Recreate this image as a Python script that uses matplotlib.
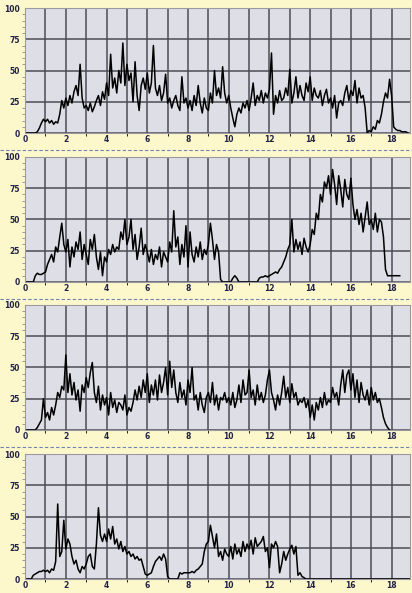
import numpy as np
import matplotlib
matplotlib.use('Agg')
import matplotlib.pyplot as plt

step = 0.1

trace1 = [0,0,0,0,0,0,1,4,8,11,
          9,11,8,10,7,9,8,15,26,20,
          28,22,30,24,33,38,30,55,28,20,
          22,18,24,17,21,26,30,22,33,27,
          40,30,63,36,44,32,50,40,72,38,
          55,42,48,25,57,30,18,38,44,35,
          48,32,40,70,36,30,38,26,32,47,
          24,28,20,26,30,22,18,45,24,28,
          20,26,18,30,22,38,24,16,28,20,
          18,32,24,50,30,36,28,53,32,24,
          30,20,12,5,15,20,16,24,20,26,
          18,28,40,22,30,26,34,24,32,28,
          35,64,15,30,24,34,26,28,36,30,
          51,24,32,45,28,38,30,26,40,33,
          45,26,36,30,28,34,22,30,35,24,
          28,20,30,12,24,26,22,32,38,26,
          34,30,42,24,36,28,30,20,0,2,
          1,5,3,10,8,15,25,32,28,43,
          30,5,3,2,2,1,1,1,0]

trace2 = [0,0,0,0,0,5,7,6,6,7,
          8,14,18,22,16,28,24,36,47,30,
          24,34,12,28,20,32,26,40,18,30,
          22,14,34,26,38,20,10,24,5,20,
          16,26,22,30,24,28,26,40,34,50,
          30,36,50,26,38,18,28,43,22,30,
          24,16,26,14,22,18,28,12,24,20,
          16,32,24,57,28,36,14,30,20,45,
          12,40,22,16,28,20,32,18,26,22,
          30,47,34,18,30,24,2,0,0,0,
          0,0,3,5,3,0,0,0,0,0,
          0,0,0,0,0,3,4,4,5,4,
          5,6,7,8,7,10,12,16,20,26,
          30,50,24,34,26,32,22,35,28,24,
          30,42,38,55,50,70,64,80,75,85,
          70,90,78,62,85,74,60,82,70,66,
          83,62,50,58,46,55,40,52,64,46,
          50,42,55,40,50,48,36,10,5,5,
          5,5,5,5,5]

trace3 = [0,0,0,0,0,0,2,5,8,25,
          10,14,8,18,12,20,30,26,35,32,
          60,30,45,28,38,24,32,15,36,30,
          42,34,46,54,30,22,35,16,28,20,
          26,12,30,18,24,14,22,20,16,28,
          12,18,15,22,32,24,35,26,40,30,
          45,22,36,28,40,24,44,30,38,50,
          28,55,34,48,30,22,38,26,32,20,
          40,30,50,24,28,16,30,20,14,26,
          30,22,38,20,28,16,26,24,30,22,
          26,20,30,18,24,36,22,40,28,30,
          48,26,32,20,36,24,30,22,28,40,
          48,30,24,16,28,20,30,43,26,34,
          22,37,26,30,20,24,22,26,18,24,
          10,20,8,22,16,26,18,30,20,24,
          22,34,26,30,20,36,48,30,44,48,
          32,45,26,40,22,38,28,24,32,20,
          34,24,30,22,25,18,10,5,2,0]

trace4 = [0,0,0,0,3,4,5,6,6,7,
          6,7,5,8,7,14,60,18,22,47,
          24,32,28,18,12,15,8,5,10,8,
          12,18,20,10,8,28,57,35,30,36,
          30,40,32,42,28,32,24,30,22,26,
          20,22,18,20,16,18,15,16,10,4,
          3,4,5,10,14,16,18,15,20,16,
          2,0,0,0,0,0,5,4,5,5,
          5,5,6,5,7,8,10,12,22,28,
          30,43,34,25,36,18,22,15,24,20,
          18,26,16,28,20,24,18,30,22,28,
          24,31,20,33,26,28,30,34,22,25,
          9,28,25,30,26,5,12,22,15,20,
          24,27,20,26,3,5,2,1,0,0] + [0]*50

traces = [trace1, trace2, trace3, trace4]
x_ticks = list(range(0, 19, 2))
y_ticks = [0, 25, 50, 75, 100]

fig = plt.figure(figsize=(4.12, 5.93), dpi=100, facecolor='#fdf8cc')
bottoms = [0.7757, 0.5245, 0.2749, 0.0236]
for b, tr in zip(bottoms, traces):
    ax = fig.add_axes([0.061, b, 0.934, 0.2108])
    ax.set_facecolor('#dedee6')
    xs = np.arange(len(tr)) * step
    ax.plot(xs, tr, color='black', linewidth=1.1)
    ax.set_xlim(0, 18.9)
    ax.set_ylim(0, 100)
    ax.set_xticks(np.arange(0, 19, 1), minor=True)
    ax.set_xticks(x_ticks)
    ax.set_yticks(y_ticks)
    ax.set_yticks(np.arange(0, 101, 5), minor=True)
    ax.grid(True, which='major', color='#4c4c54', linewidth=1.1)
    ax.grid(True, which='minor', axis='x', color='#4c4c54', linewidth=1.1)
    ax.set_axisbelow(True)
    ax.tick_params(labelsize=5.5, length=0, colors='#222244')
    ax.tick_params(axis='x', pad=1.5)
    ax.tick_params(axis='y', pad=4)
    ax.tick_params(axis='y', which='minor', length=2, color='#888888')
    for lbl in ax.get_xticklabels() + ax.get_yticklabels():
        lbl.set_fontweight('bold')
    for s in ax.spines.values():
        s.set_color('#9a9aa0')
        s.set_linewidth(0.8)

# dashed separators between panels
for y in [1 - 150/593, 1 - 299/593, 1 - 447/593]:
    fig.add_artist(plt.Line2D([0, 1], [y, y], color='#7080b0', linewidth=0.8,
                              linestyle=(0, (3, 2)), transform=fig.transFigure))

fig.savefig('out.png', dpi=100, facecolor=fig.get_facecolor())
